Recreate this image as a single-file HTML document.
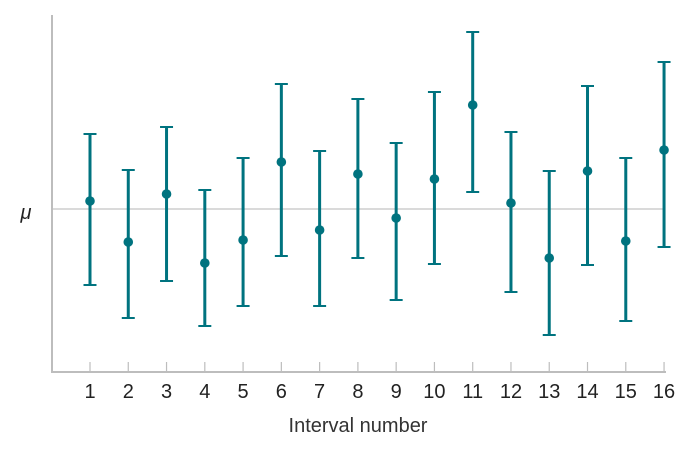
<!DOCTYPE html>
<html><head><meta charset="utf-8"><style>
body{margin:0;background:#fff;}
svg{display:block;font-family:"Liberation Sans",sans-serif;}
</style></head><body>
<svg id="chart" width="699" height="449" viewBox="0 0 699 449">
<line x1="53" y1="209" x2="665" y2="209" stroke="#c4c4c4" stroke-width="1.2"/>
<g id="marks"></g>
<line x1="52" y1="15" x2="52" y2="373" stroke="#bdbdbd" stroke-width="2"/>
<line x1="51" y1="372" x2="666" y2="372" stroke="#bdbdbd" stroke-width="2"/>
<text x="26" y="219" font-size="20" font-style="italic" text-anchor="middle" fill="#222">μ</text>
<text x="358" y="432" font-size="20" text-anchor="middle" fill="#333">Interval number</text>
</svg>
<script>
const categories=[1,2,3,4,5,6,7,8,9,10,11,12,13,14,15,16];
const estimates=[0.8,-3.3,1.5,-5.4,-3.1,4.7,-2.1,3.5,-0.9,3.0,10.4,0.6,-4.9,3.8,-3.2,5.9];
const upper=[7.5,3.9,8.2,1.9,5.1,12.5,5.8,11.0,6.6,11.7,17.7,7.7,3.8,12.3,5.1,14.7];
const lower=[-7.6,-10.9,-7.2,-11.7,-9.7,-4.7,-9.7,-4.9,-9.1,-5.5,1.7,-8.3,-12.6,-5.6,-11.2,-3.8];
const ns="http://www.w3.org/2000/svg";
const x=i=>90+(i-1)*38.27;
const y=v=>209-v*10;
const g=document.getElementById('marks');
const C="#00737f";
function mk(t,a){const e=document.createElementNS(ns,t);for(const k in a)e.setAttribute(k,a[k]);g.appendChild(e);return e;}
categories.forEach((c,i)=>{
  const cx=x(c);
  let e=mk('line',{x1:cx,y1:362,x2:cx,y2:372,stroke:"#bdbdbd","stroke-width":1.2});
  
  
  e=mk('text',{x:cx,y:398,"font-size":20,"text-anchor":"middle",fill:"#222"});e.textContent=c;
  
  
  e=mk('line',{x1:cx,y1:y(upper[i]),x2:cx,y2:y(lower[i]),stroke:C,"stroke-width":3});
  
  
  e=mk('line',{x1:cx-6.5,y1:y(upper[i]),x2:cx+6.5,y2:y(upper[i]),stroke:C,"stroke-width":2});
  
  
  e=mk('line',{x1:cx-6.5,y1:y(lower[i]),x2:cx+6.5,y2:y(lower[i]),stroke:C,"stroke-width":2});
  
  
  e=mk('circle',{cx:cx,cy:y(estimates[i]),r:4.8,fill:C});
  
  
});
</script>
</body></html>
